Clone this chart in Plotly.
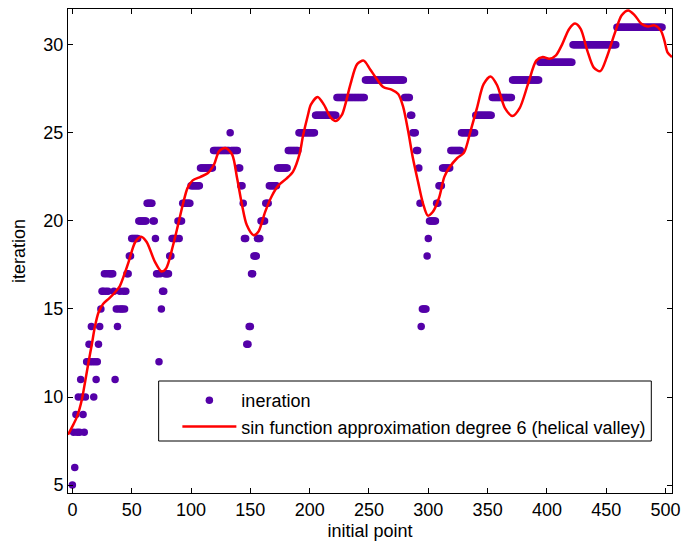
import numpy as np
import plotly.graph_objects as go

# ---- data: iteration count per initial point, written as runs (value, run length) ----
iter_values = [5, 8, 6, 9, 8, 10, 8, 11, 10, 9, 8, 10, 12, 13, 12, 14, 12, 10, 12, 11, 12, 13, 14, 15,
               16, 17, 16, 17, 16, 17, 16, 11, 15, 14, 15, 16, 15, 16, 15, 16, 17, 18,
               19, 20, 21, 20, 19, 17, 12, 17, 15, 16, 17, 18, 19, 20, 19, 20, 21, 22, 23,
               24, 25, 24, 23, 22, 21, 19, 13, 14, 17, 18, 19, 20, 21, 22, 23, 24, 25, 26,
               27, 28, 27, 26, 25, 24, 23, 21, 14, 15, 18, 19, 20, 21, 22, 23, 24, 25, 26,
               27, 28, 29, 30, 31]
iter_counts = [1, 1, 1, 1, 1, 1, 1, 1, 1, 1, 1, 1, 2, 1, 1, 1, 1, 1, 1, 1, 1, 1, 1, 1,
               2, 1, 1, 1, 1, 4, 1, 1, 1, 1, 1, 1, 2, 1, 1, 1, 2, 2,
               6, 7, 5, 2, 1, 2, 1, 1, 1, 2, 4, 2, 5, 1, 1, 2, 7, 8, 11,
               14, 1, 6, 2, 2, 1, 2, 2, 2, 2, 3, 3, 4, 3, 7, 9, 9, 14, 18,
               24, 33, 5, 2, 3, 2, 1, 1, 1, 4, 1, 1, 6, 2, 3, 7, 9, 12, 14,
               17, 23, 28, 37, 39]

# ---- data: sin-function approximation curve ----
fit_x = [-3.7, 0, 4, 8, 10.8, 13.6, 16.4, 19, 22, 26, 31, 36, 40, 44, 47.4, 53, 58, 62.6, 69.6,
         75, 79, 84.8, 89, 93, 97, 101.4, 108, 114, 119.4, 123.6, 129, 134.7, 138.8, 143, 147,
         152.7, 156.9, 162.4, 168, 173.5, 180.4, 186, 191.5, 194.3, 198.5, 201, 206.7, 212,
         217.8, 222, 227, 230, 234.4, 240, 245.5, 251, 256.6, 262, 269, 274.6, 278.7, 283,
         287, 291.4, 295.5, 299.6, 303.7, 309, 313.5, 317.5, 324.4, 330, 335.6, 341, 346.6,
         352.5, 358, 364.6, 371, 377, 384, 391, 396.5, 402, 407.6, 413, 418.7, 423.7, 428.4,
         434, 439.5, 445, 450.5, 456.9, 463, 468.6, 474, 479.6, 485, 490.7, 496, 499, 501.6, 505.4]
fit_y = [7.86, 8.33, 8.9, 9.86, 10.9, 11.97, 13.0, 14.0, 14.8, 15.3, 15.6, 15.95, 16.3, 17.0, 17.67,
         18.8, 19.1, 18.8, 17.67, 17.13, 17.3, 18.6, 19.76, 20.9, 21.86, 22.3, 22.5, 22.7, 23.2,
         23.95, 24.14, 23.76, 22.43, 20.9, 19.76, 19.19, 19.4, 20.5, 21.4, 22.0, 22.4, 22.8, 23.8,
         24.8, 26.0, 26.6, 27.04, 26.6, 25.86, 25.67, 26.0, 26.6, 27.76, 28.9, 29.1, 28.6, 28.05,
         27.6, 27.45, 27.2, 26.5, 25.1, 23.57, 22.2, 21.0, 20.3, 20.5, 21.3, 22.5, 23.0, 23.57,
         23.86, 25.1, 26.4, 27.76, 28.2, 27.7, 26.4, 25.95, 26.4, 27.76, 29.1, 29.3, 29.2, 29.4,
         30.05, 30.9, 31.2, 30.9, 29.67, 28.7, 28.5, 29.3, 30.6, 31.67, 31.95, 31.67, 31.19, 31.04,
         31.1, 30.8, 30.24, 29.57, 29.3]

x_ticks = [0, 50, 100, 150, 200, 250, 300, 350, 400, 450, 500]
y_ticks = [5, 10, 15, 20, 25, 30]

iteration = np.repeat(iter_values, iter_counts)
initial_point = np.arange(len(iteration))

FONT = "Liberation Sans, Arial, sans-serif"
FS = 18

fig = go.Figure()
fig.add_trace(go.Scatter(
    x=initial_point, y=iteration, mode="markers", name="ineration",
    marker=dict(color="rgb(84,0,168)", size=7.5, line=dict(width=0)),
    legendgroup="a"))
fig.add_trace(go.Scatter(
    x=fit_x, y=fit_y, mode="lines", name="sin function approximation degree 6 (helical valley)",
    line=dict(color="#ff0000", width=2.5, shape="spline", smoothing=0.8),
    legendgroup="b"))

axis_common = dict(
    showline=True, linecolor="black", linewidth=1, mirror="allticks",
    ticks="inside", ticklen=5, tickcolor="black", showgrid=False, zeroline=False,
    tickfont=dict(family=FONT, size=FS, color="black"), ticklabeloverflow="allow",
)
fig.update_xaxes(range=[-3.7, 505.4], tickvals=x_ticks,
                 title=dict(text="initial point", font=dict(family=FONT, size=FS, color="black"),
                            standoff=5),
                 **axis_common)
fig.update_yaxes(range=[4.55, 32.03], tickvals=y_ticks,
                 title=dict(text="iteration", font=dict(family=FONT, size=FS, color="black"),
                            standoff=13),
                 **axis_common)

W, H = 686, 544
ml, mr, mt, mb = 68, 5, 9, 51
pw, ph = W - ml - mr, H - mt - mb


def px_x(p):
    return (p - ml) / pw


def px_y(p):
    return (H - mb - p) / ph


# legend frame (opaque white box with black border)
fig.add_shape(type="rect", xref="paper", yref="paper",
              x0=px_x(160), x1=px_x(660), y0=px_y(441), y1=px_y(381),
              fillcolor="white", line=dict(color="black", width=1), layer="above")

fig.update_layout(
    width=W, height=H,
    margin=dict(l=ml, r=mr, t=mt, b=mb),
    paper_bgcolor="white", plot_bgcolor="white",
    showlegend=True,
    legend=dict(x=px_x(179), y=px_y(382), xanchor="left", yanchor="top",
                bgcolor="rgba(0,0,0,0)", borderwidth=0,
                font=dict(family=FONT, size=FS, color="black"),
                itemwidth=54, tracegroupgap=0),
)

fig.write_html("out.html")
